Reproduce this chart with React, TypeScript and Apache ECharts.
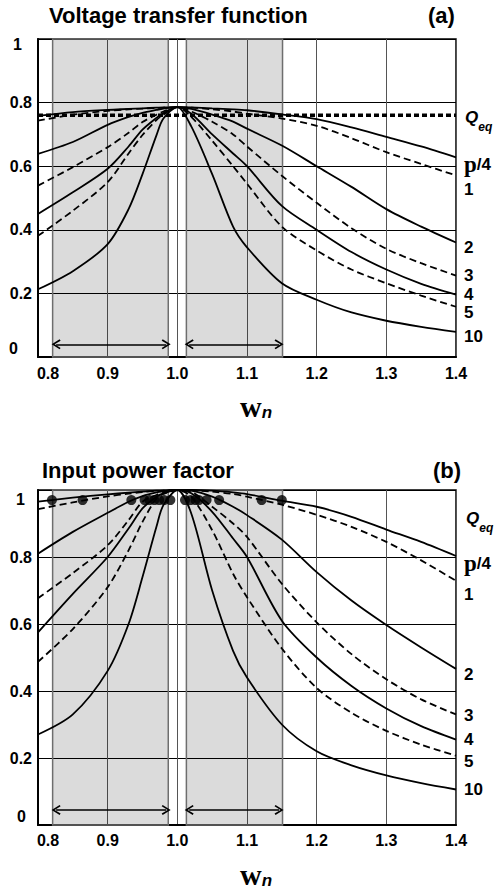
import React, { useEffect, useRef } from 'react';
import * as echarts from 'echarts';

// ---------- data ----------
const xs = [0.8, 0.85, 0.9, 0.93, 0.95, 0.97, 0.98, 1.0, 1.02, 1.05, 1.08, 1.1, 1.15, 1.2, 1.25, 1.3, 1.35, 1.4];
const qNames = ['pi/4', '1', '2', '3', '4', '5', '10'];
const qDashed = [false, true, false, true, false, true, false];

// (a) Voltage transfer function
const vtPi4 = [0.758, 0.770, 0.777, 0.780, 0.782, 0.784, 0.785, 0.786, 0.785, 0.782, 0.779, 0.776, 0.763, 0.748, 0.722, 0.692, 0.662, 0.628];
const vtQ1 = [0.743, 0.762, 0.774, 0.779, 0.781, 0.783, 0.784, 0.786, 0.784, 0.779, 0.772, 0.765, 0.750, 0.727, 0.688, 0.644, 0.607, 0.571];
const vtQ2 = [0.639, 0.676, 0.730, 0.755, 0.768, 0.777, 0.781, 0.786, 0.780, 0.762, 0.740, 0.718, 0.665, 0.600, 0.535, 0.465, 0.410, 0.360];
const vtQ3 = [0.539, 0.597, 0.660, 0.705, 0.739, 0.762, 0.772, 0.786, 0.772, 0.740, 0.700, 0.662, 0.570, 0.485, 0.405, 0.340, 0.295, 0.256];
const vtQ4 = [0.450, 0.518, 0.592, 0.662, 0.715, 0.752, 0.767, 0.786, 0.765, 0.700, 0.640, 0.600, 0.475, 0.400, 0.330, 0.275, 0.230, 0.196];
const vtQ5 = [0.381, 0.460, 0.550, 0.640, 0.698, 0.745, 0.762, 0.786, 0.755, 0.680, 0.600, 0.545, 0.410, 0.335, 0.275, 0.232, 0.193, 0.158];
const vtQ10 = [0.213, 0.270, 0.355, 0.465, 0.575, 0.697, 0.750, 0.786, 0.725, 0.575, 0.410, 0.345, 0.232, 0.180, 0.140, 0.114, 0.095, 0.079];
const vtQeq = 0.76;

// (b) Input power factor
const pfPi4 = [0.965, 0.977, 0.987, 0.992, 0.995, 0.998, 0.999, 1.0, 1.0, 0.998, 0.993, 0.988, 0.968, 0.950, 0.920, 0.882, 0.845, 0.803];
const pfQ1 = [0.943, 0.963, 0.981, 0.989, 0.994, 0.997, 0.998, 1.0, 0.999, 0.995, 0.988, 0.980, 0.956, 0.926, 0.890, 0.845, 0.790, 0.729];
const pfQ2 = [0.810, 0.875, 0.932, 0.965, 0.982, 0.993, 0.996, 1.0, 0.998, 0.980, 0.950, 0.925, 0.852, 0.755, 0.670, 0.597, 0.530, 0.466];
const pfQ3 = [0.677, 0.752, 0.835, 0.910, 0.965, 0.985, 0.993, 1.0, 0.995, 0.950, 0.900, 0.860, 0.720, 0.605, 0.510, 0.435, 0.375, 0.330];
const pfQ4 = [0.575, 0.690, 0.800, 0.885, 0.945, 0.980, 0.990, 1.0, 0.990, 0.935, 0.855, 0.800, 0.610, 0.500, 0.415, 0.348, 0.295, 0.255];
const pfQ5 = [0.487, 0.585, 0.710, 0.820, 0.905, 0.975, 0.988, 1.0, 0.980, 0.880, 0.750, 0.680, 0.527, 0.409, 0.335, 0.281, 0.240, 0.207];
const pfQ10 = [0.270, 0.330, 0.460, 0.600, 0.740, 0.890, 0.955, 1.0, 0.930, 0.700, 0.520, 0.440, 0.300, 0.220, 0.178, 0.148, 0.125, 0.106];
const pfDotX = [0.820, 0.864, 0.934, 0.953, 0.960, 0.967, 0.974, 0.981, 0.990, 1.011, 1.019, 1.026, 1.031, 1.042, 1.060, 1.121, 1.150];
const pfDotY = [0.97, 0.97, 0.97, 0.97, 0.97, 0.97, 0.97, 0.97, 0.97, 0.97, 0.97, 0.97, 0.97, 0.97, 0.97, 0.97, 0.97];

const shadedBands = [[0.821, 0.987], [1.013, 1.151]];
const arrowSpans = [[0.826, 0.984], [1.017, 1.146]];
const arrowLevels = [0.04, 0.045];

const vtCurves = [vtPi4, vtQ1, vtQ2, vtQ3, vtQ4, vtQ5, vtQ10];
const pfCurves = [pfPi4, pfQ1, pfQ2, pfQ3, pfQ4, pfQ5, pfQ10];

// ---------- styles ----------
const SANS = 'Liberation Sans, Arial, sans-serif';
const SERIF = 'Liberation Serif, Times New Roman, serif';
const labelDy = [
  [7, 14, 5, 0, 0, 6, 5],
  [8, 14, 6, 1, 0, 6, 0],
];
const grids = [
  { left: 38, top: 39, width: 418, height: 318 },
  { left: 38, top: 490, width: 418, height: 338 },
];
const chevron = 'path://M5,0 L10,8 L8.6,9 L5,3 L1.4,9 L0,8 Z';

const labelRich = {
  p: { fontFamily: SERIF, fontWeight: 'bold', fontSize: 23, color: '#000' },
  s: { fontFamily: SANS, fontWeight: 'bold', fontSize: 17, color: '#000' },
  q: { fontFamily: SANS, fontWeight: 'bold', fontStyle: 'italic', fontSize: 17, lineHeight: 24, verticalAlign: 'top', color: '#000' },
  e: { fontFamily: SANS, fontWeight: 'bold', fontStyle: 'italic', fontSize: 12, lineHeight: 14, verticalAlign: 'bottom', color: '#000' },
};

function curveLabel(name: string) {
  return name === 'pi/4' ? '{p|p}{s|/4}' : '{s|' + name + '}';
}

function buildOption() {
  const series: any[] = [];
  [vtCurves, pfCurves].forEach((curves, g) => {
    curves.forEach((vals, i) => {
      const s: any = {
        type: 'line',
        name: (g === 0 ? 'vt-' : 'pf-') + qNames[i],
        xAxisIndex: g,
        yAxisIndex: g,
        data: xs.map((x, k) => [x, vals[k]]),
        symbol: 'none',
        smooth: 0.3,
        silent: true,
        lineStyle: { color: '#000', width: 1.8, type: qDashed[i] ? [7, 4] : 'solid' },
        endLabel: {
          show: true,
          formatter: curveLabel(qNames[i]),
          distance: 8,
          offset: [0, labelDy[g][i]],
          rich: labelRich,
        },
      };
      if (i === 0) {
        s.markArea = {
          silent: true,
          itemStyle: { color: 'rgba(0,0,0,0.14)', borderColor: '#6e6e6e', borderWidth: 1.5 },
          data: shadedBands.map(([a, b]) => [{ xAxis: a }, { xAxis: b }]),
        };
        s.markLine = {
          silent: true,
          symbol: [chevron, chevron],
          symbolSize: [10, 9],
          label: { show: false },
          lineStyle: { color: '#000', width: 1.6, type: 'solid' },
          data: arrowSpans.map(([a, b]) => [
            { coord: [a, arrowLevels[g]] },
            { coord: [b, arrowLevels[g]] },
          ]),
        };
      }
      series.push(s);
    });
  });
  // Q_eq dotted line (a)
  series.push({
    type: 'line',
    name: 'Qeq',
    xAxisIndex: 0,
    yAxisIndex: 0,
    data: [[0.8, vtQeq], [1.4, vtQeq]],
    symbol: 'none',
    silent: true,
    lineStyle: { color: '#000', width: 3.5, type: [5, 3], cap: 'butt' },
    endLabel: { show: true, formatter: '{q|Q}{e|eq}', distance: 9, offset: [0, 6], rich: labelRich },
  });
  // dots (b)
  series.push({
    type: 'scatter',
    xAxisIndex: 1,
    yAxisIndex: 1,
    silent: true,
    symbol: 'circle',
    symbolSize: 10,
    itemStyle: { color: '#000' },
    data: pfDotX.map((x, k) => [x, pfDotY[k]]),
    z: 5,
  });

  const mkX = (g: number, margin: number) => ({
    type: 'value',
    gridIndex: g,
    min: 0.8,
    max: 1.4,
    interval: 0.1,
    axisLine: { show: true, onZero: false, lineStyle: { color: '#000', width: 2 } },
    axisTick: { show: false },
    splitLine: { show: true, lineStyle: { color: '#555', width: 1 } },
    axisLabel: {
      margin,
      color: '#000',
      fontFamily: SANS,
      fontWeight: 'bold',
      fontSize: 16,
      formatter: (v: number) => (Math.abs(v - 0.8) < 1e-6 ? '{m|0.8}' : v.toFixed(1)),
      rich: { m: { fontFamily: SANS, fontWeight: 'bold', fontSize: 16, color: '#000', padding: [0, 0, 0, 20] } },
    },
    name: '{w|w}{n|n}',
    nameLocation: 'middle',
    nameGap: 34,
    nameTextStyle: {
      padding: [0, 0, 0, 18],
      rich: {
        w: { fontFamily: SERIF, fontWeight: 'bold', fontSize: 30, lineHeight: 30, verticalAlign: 'top', color: '#000' },
        n: { fontFamily: SANS, fontWeight: 'bold', fontStyle: 'italic', fontSize: 17, lineHeight: 16, verticalAlign: 'bottom', color: '#000' },
      },
    },
  });
  const mkY = (g: number) => ({
    type: 'value',
    gridIndex: g,
    min: 0,
    max: 1,
    interval: 0.2,
    axisLine: { show: true, onZero: false, lineStyle: { color: '#000', width: 2 } },
    axisTick: { show: false },
    splitLine: { show: true, lineStyle: { color: '#000', width: 1 } },
    axisLabel: {
      margin: 6,
      color: '#000',
      fontFamily: SANS,
      fontWeight: 'bold',
      fontSize: 16,
      formatter: (v: number) => {
        if (Math.abs(v) < 1e-6) return '{z|0}';
        if (Math.abs(v - 1) < 1e-6) return '{o|1}';
        return '{d|' + v.toFixed(1) + '}';
      },
      rich: {
        d: { fontFamily: SANS, fontWeight: 'bold', fontSize: 16, color: '#000' },
        z: { fontFamily: SANS, fontWeight: 'bold', fontSize: 16, color: '#000', padding: [0, g === 0 ? 14 : 6, 18, 0] },
        o: { fontFamily: SANS, fontWeight: 'bold', fontSize: 16, color: '#000', padding: [g === 0 ? 10 : 18, g === 0 ? 10 : 7, 0, 0] },
      },
    },
  });

  const titleStyle = { fontFamily: SANS, fontWeight: 'bold', fontSize: 22, color: '#000' };
  return {
    animation: false,
    backgroundColor: '#fff',
    title: [
      { text: 'Voltage transfer function', left: 49, top: 4, textStyle: titleStyle, padding: 0 },
      { text: '(a)', left: 428, top: 4, textStyle: titleStyle, padding: 0 },
      { text: 'Input power factor', left: 42, top: 459, textStyle: titleStyle, padding: 0 },
      { text: '(b)', left: 433, top: 459, textStyle: titleStyle, padding: 0 },
      { text: '{q|Q}{e|eq}', left: 466, top: 510, padding: 0, textStyle: { rich: labelRich } },
    ],
    grid: grids.map((g) => ({ ...g, show: true, borderColor: '#000', borderWidth: 1.5, backgroundColor: 'transparent' })),
    xAxis: [mkX(0, 8), mkX(1, 7)],
    yAxis: [mkY(0), mkY(1)],
    series,
  };
}

export default function App() {
  const ref = useRef<HTMLDivElement>(null);
  useEffect(() => {
    if (!ref.current) return;
    const chart = echarts.init(ref.current, undefined, { renderer: 'svg' });
    chart.setOption(buildOption() as any);
    return () => chart.dispose();
  }, []);
  return (
    <div
      ref={ref}
      style={{ position: 'fixed', left: 0, top: 0, width: 499, height: 890, background: '#fff' }}
    />
  );
}
